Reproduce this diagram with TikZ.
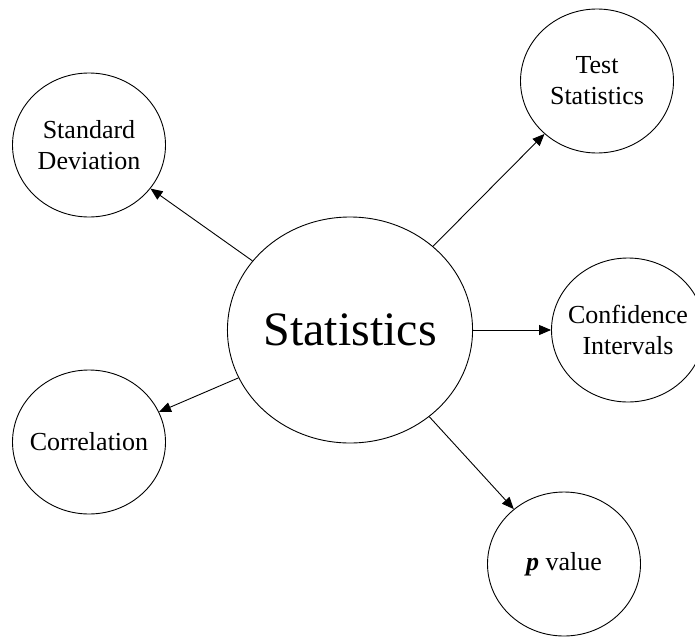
\documentclass[tikz,border=0pt]{standalone}
\usepackage{fontspec}
\setmainfont{Liberation Serif}
\usetikzlibrary{shapes.geometric,arrows.meta}
\tikzset{
  small/.style={ellipse,draw,line width=0.9pt,minimum width=153pt,minimum height=144pt,inner ysep=0pt,inner xsep=-22pt,align=center,font=\fontsize{26}{31}\selectfont},
  big/.style={ellipse,draw,line width=0.9pt,minimum width=243pt,minimum height=226pt,inner sep=0pt,font=\fontsize{48}{58}\selectfont},
  conn/.style={line width=0.9pt,-{Triangle[length=12pt,width=10pt]}}
}
\begin{document}
\begin{tikzpicture}[x=1pt,y=-1pt]
\useasboundingbox (0,0) rectangle (695,637);
\node[big] (c) at (350,330) {Statistics};
\node[small] (sd) at (89,145) {Standard\\Deviation};
\node[small] (ts) at (597,81) {Test\\Statistics};
\node[small] (ci) at (628,330) {Confidence\\Intervals};
\node[small] (co) at (89,442) {Correlation};
\node[small] (pv) at (564,564) {\textbf{\textit{p}} value};
\draw[conn] (c) -- (sd);
\draw[conn] (c) -- (ts);
\draw[conn] (c) -- (ci);
\draw[conn] (c) -- (co);
\draw[conn] (c) -- (pv);
\end{tikzpicture}
\end{document}
